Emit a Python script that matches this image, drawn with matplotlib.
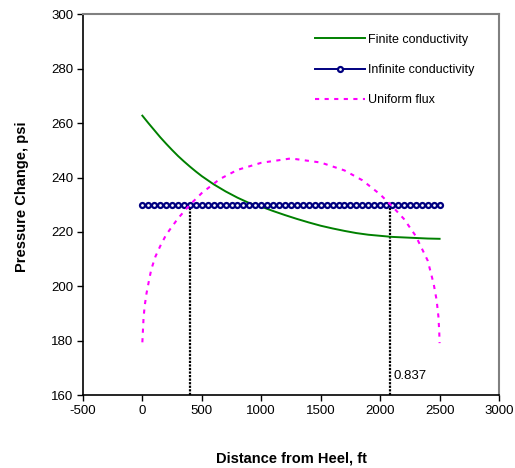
import numpy as np
import matplotlib
matplotlib.use("Agg")
import matplotlib.pyplot as plt

plt.rcParams['font.family'] = ['Liberation Sans', 'DejaVu Sans']
plt.rcParams['axes.unicode_minus'] = False

# Pressure change along the lateral, three fracture models
finite_x = [0, 50, 100, 150, 200, 250, 300, 350, 400, 450, 500, 600, 700, 800,
            900, 1000, 1100, 1200, 1300, 1400, 1500, 1600, 1700, 1800, 1900,
            2000, 2100, 2200, 2300, 2400, 2500]
finite_y = [262.7, 260.0, 257.4, 254.8, 252.4, 250.1, 247.9, 245.9, 244.0,
            242.2, 240.5, 237.5, 234.9, 232.6, 230.6, 229.3, 227.7, 226.2,
            224.8, 223.5, 222.3, 221.3, 220.4, 219.6, 219.0, 218.6, 218.2,
            218.0, 217.8, 217.6, 217.5]

infinite_x = list(range(0, 2501, 50))
infinite_y = [230.0] * len(infinite_x)

uniform_x = [0, 5, 10, 20, 35, 55, 75, 110, 150, 200, 300, 400, 500, 650, 800,
             1000, 1250, 1500, 1700, 1850, 2000, 2100, 2200, 2300, 2400, 2450,
             2475, 2490, 2497, 2500]
uniform_y = [179.5, 184.0, 188.5, 193.0, 197.5, 202.0, 206.3, 211.0, 214.8,
             219.0, 225.0, 230.0, 234.3, 239.4, 242.8, 245.4, 247.0, 245.5,
             242.6, 239.0, 233.8, 229.5, 224.8, 218.5, 209.5, 201.0, 195.0,
             189.0, 183.5, 179.2]

# crossing points of uniform flux with infinite conductivity
cross_x = [400, 2085]
cross_top = 230
cross_label = "0.837"

xticks = [-500, 0, 500, 1000, 1500, 2000, 2500, 3000]
yticks = [160, 180, 200, 220, 240, 260, 280, 300]

fig = plt.figure(figsize=(5.15, 4.68), dpi=100)
ax = fig.add_axes([0.161, 0.155, 0.808, 0.815])

ax.plot(finite_x, finite_y, color='#008000', lw=1.4, label='Finite conductivity')
ax.plot(infinite_x, infinite_y, color='#000080', lw=1.4, marker='o', ms=3.6,
        mfc='white', mec='#000080', mew=1.6, label='Infinite conductivity')
ax.plot(uniform_x, uniform_y, color='#ff00ff', lw=1.5, ls=(0, (2.0, 2.6)),
        label='Uniform flux')

for cx in cross_x:
    ax.plot([cx, cx], [160, cross_top], color='black', lw=1.6, ls=(0, (1, 0.6)),
            zorder=1)
ax.text(cross_x[1] + 30, 167, cross_label, fontsize=9.5, va='center', ha='left')

ax.set_xlim(-500, 3000)
ax.set_ylim(160, 300)
ax.set_xticks(xticks)
ax.set_yticks(yticks)
ax.tick_params(axis='both', direction='out', length=4, width=1, labelsize=9.5,
               pad=3)

for side in ('top', 'right'):
    ax.spines[side].set_color('#808080')
    ax.spines[side].set_linewidth(1.5)
for side in ('left', 'bottom'):
    ax.spines[side].set_color('black')
    ax.spines[side].set_linewidth(1.2)

ax.set_xlabel('Distance from Heel, ft', fontsize=10.5, fontweight='bold',
              labelpad=24.5)
ax.set_ylabel('Pressure Change, psi', fontsize=10.5, fontweight='bold',
              labelpad=15.5)
ax.yaxis.label.set_y(0.522)

ax.legend(loc='upper left', bbox_to_anchor=(0.558, 0.948), frameon=False,
          fontsize=9, handlelength=4.0, handletextpad=0.24, labelspacing=1.46,
          borderaxespad=0, borderpad=0)

fig.savefig('out.png', dpi=100)
